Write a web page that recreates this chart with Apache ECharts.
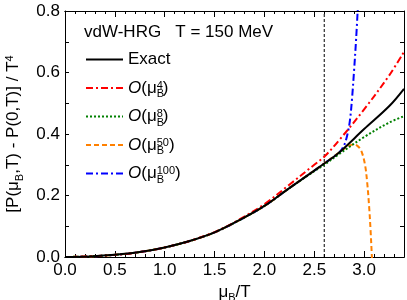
<!DOCTYPE html>
<html><head><meta charset="utf-8">
<script src="https://cdn.jsdelivr.net/npm/echarts@6/dist/echarts.min.js"></script>
<style>html,body{margin:0;padding:0;background:#fff}#c{width:407px;height:300px}</style>
</head><body><div id="c"></div>
<script>
// ---- data ----
const xExact = [0, 0.25, 0.5, 0.75, 1.0, 1.25, 1.5, 1.75, 2.0, 2.25, 2.5, 2.6, 2.75, 3.0, 3.25, 3.4];
const yExact = [0, 0.002, 0.007, 0.016, 0.031, 0.052, 0.080, 0.120, 0.166, 0.224, 0.281, 0.304, 0.340, 0.416, 0.490, 0.547];

const xO4 = [0, 0.25, 0.5, 0.75, 1.0, 1.25, 1.5, 1.75, 2.0, 2.25, 2.5, 2.6, 2.75, 3.0, 3.25, 3.4];
const yO4 = [0, 0.002, 0.007, 0.016, 0.031, 0.052, 0.081, 0.122, 0.172, 0.235, 0.300, 0.326, 0.380, 0.480, 0.590, 0.667];

const xO8 = [0, 0.25, 0.5, 0.75, 1.0, 1.25, 1.5, 1.75, 2.0, 2.25, 2.5, 2.6, 2.75, 3.0, 3.25, 3.4];
const yO8 = [0, 0.002, 0.007, 0.016, 0.031, 0.052, 0.080, 0.120, 0.166, 0.224, 0.279, 0.300, 0.335, 0.390, 0.437, 0.458];

const xO50 = [0, 0.25, 0.5, 0.75, 1.0, 1.25, 1.5, 1.75, 2.0, 2.25, 2.5, 2.6, 2.75, 2.8, 2.85, 2.9, 2.95, 2.98, 3.01, 3.03, 3.05, 3.065, 3.078, 3.09];
const yO50 = [0, 0.002, 0.007, 0.016, 0.031, 0.052, 0.080, 0.120, 0.166, 0.224, 0.281, 0.304, 0.340, 0.352, 0.362, 0.366, 0.356, 0.338, 0.298, 0.245, 0.165, 0.085, 0.0, -0.08];

const xO100 = [0, 0.25, 0.5, 0.75, 1.0, 1.25, 1.5, 1.75, 2.0, 2.25, 2.5, 2.6, 2.75, 2.78, 2.81, 2.84, 2.86, 2.88, 2.90, 2.92, 2.94];
const yO100 = [0, 0.002, 0.007, 0.016, 0.031, 0.052, 0.080, 0.120, 0.166, 0.224, 0.281, 0.304, 0.340, 0.352, 0.372, 0.410, 0.450, 0.520, 0.610, 0.710, 0.830];

const xCrit = [2.6, 2.6];
const yCrit = [0, 0.8];

const seriesNames = ['Exact', 'O(μB^4)', 'O(μB^8)', 'O(μB^50)', 'O(μB^100)'];
const orders = ['', '4', '8', '50', '100'];

// ---- chart ----
const FONT = '"Liberation Sans", Arial, Helvetica, sans-serif';
const pairs = (xs, ys) => xs.map((x, i) => [x, ys[i]]);
const chart = echarts.init(document.getElementById('c'), null, {renderer: 'canvas'});

const richLegend = {
  i: {fontFamily: FONT, fontSize: 17, fontStyle: 'italic', color: '#000'},
  n: {fontFamily: FONT, fontSize: 17, color: '#000'},
  sub: {fontFamily: FONT, fontSize: 11, color: '#000', width: 0.01, padding: [12, 0, 0, 0]},
  sup: {fontFamily: FONT, fontSize: 11, color: '#000', padding: [0, 0, 5, 0]}
};

function mkX(pos, interval, len, labels) {
  return {
    type: 'value', min: 0, max: 3.4, interval: interval, position: pos,
    axisLine: {show: true, onZero: false, lineStyle: {color: '#000', width: 1}},
    axisTick: {show: true, inside: true, length: len, lineStyle: {color: '#000', width: 1}},
    axisLabel: labels ? {
      show: true, color: '#000', fontFamily: FONT, fontSize: 17, margin: 5,
      formatter: v => { const k = Math.round(v * 10); return (Math.abs(v * 10 - k) < 1e-6 && k % 5 === 0) ? (k / 10).toFixed(1) : ''; }
    } : {show: false},
    splitLine: {show: false}
  };
}
function mkY(pos, labels) {
  return {
    type: 'value', min: 0, max: 0.8, interval: 0.1, position: pos,
    axisLine: {show: true, onZero: false, lineStyle: {color: '#000', width: 1}},
    axisTick: {show: true, inside: true, length: 4, lineStyle: {color: '#000', width: 1}},
    axisLabel: labels ? {
      show: true, color: '#000', fontFamily: FONT, fontSize: 17, margin: 5,
      formatter: v => { const k = Math.round(v * 10); return k % 2 === 0 ? (k / 10).toFixed(1) : ''; }
    } : {show: false},
    splitLine: {show: false}
  };
}

const xa0 = mkX('bottom', 0.1, 3, true);
xa0.name = '{n|μ}{sub|B}{n|/T}';
xa0.nameLocation = 'middle';
xa0.nameGap = 22;
xa0.nameTextStyle = {color: '#000', fontFamily: FONT, fontSize: 17, rich: {
  n: {fontFamily: FONT, fontSize: 17, color: '#000'},
  sub: {fontFamily: FONT, fontSize: 11, color: '#000', padding: [12, 0, 0, 0]}
}};
const xa1 = mkX('bottom', 0.5, 6, false);
const xa2 = mkX('top', 0.1, 3, false);
const xa3 = mkX('top', 0.5, 6, false);

const ya0 = mkY('left', true);
ya0.name = '{n|[P(μ}{sub|B}{n|,T) - P(0,T)] / T}{sup|4}';
ya0.nameLocation = 'middle';
ya0.nameGap = 40;
ya0.nameTextStyle = {color: '#000', fontFamily: FONT, fontSize: 17, rich: {
  n: {fontFamily: FONT, fontSize: 17, color: '#000'},
  sub: {fontFamily: FONT, fontSize: 11, color: '#000', padding: [12, 0, 0, 0]},
  sup: {fontFamily: FONT, fontSize: 11, color: '#000', padding: [0, 0, 8, 0]}
}};
const ya1 = mkY('right', false);

const styles = [
  {color: '#000000', width: 2, type: 'solid'},
  {color: '#ff0000', width: 2, type: [7, 3, 2, 3]},
  {color: '#008000', width: 2, type: [2, 2]},
  {color: '#ff8000', width: 2, type: [5, 3]},
  {color: '#0000ff', width: 2, type: [7, 3, 2, 3]}
];
const datas = [pairs(xExact, yExact), pairs(xO4, yO4), pairs(xO8, yO8), pairs(xO50, yO50), pairs(xO100, yO100)];

const series = [{
  name: 'crit', type: 'line', data: pairs(xCrit, yCrit), symbol: 'none', silent: true,
  lineStyle: {color: '#000', width: 1, type: [3, 2]}, z: 1
}];
// draw in reverse so that Exact is on top
for (let i = seriesNames.length - 1; i >= 0; i--) {
  series.push({
    name: seriesNames[i], type: 'line', data: datas[i], symbol: 'none', smooth: 0.35,
    clip: true, lineStyle: styles[i], itemStyle: {color: styles[i].color}, z: 2 + (seriesNames.length - i)
  });
}

chart.setOption({
  animation: false,
  backgroundColor: '#fff',
  grid: {left: 65, right: 3, top: 11, bottom: 43, outerBoundsMode: 'none', containLabel: false},
  title: {
    text: 'vdW-HRG   T = 150 MeV', left: 84, top: 24, padding: 0,
    textStyle: {fontFamily: FONT, fontSize: 17, fontWeight: 'normal', color: '#000'}
  },
  legend: {
    data: seriesNames, orient: 'vertical', left: 85, top: 51, padding: 0,
    itemWidth: 37, itemHeight: 14, itemGap: 8.5, itemStyle: {opacity: 0},
    textStyle: {fontFamily: FONT, fontSize: 17, color: '#000', rich: richLegend},
    formatter: name => {
      const i = seriesNames.indexOf(name);
      if (i === 0) return '{n|Exact}{sub| }{sup| }';
      return '{i|O}{n|(μ}{sub|B}{sup|' + orders[i] + '}{n|)}';
    }
  },
  xAxis: [xa0, xa1, xa2, xa3],
  yAxis: [ya0, ya1],
  series: series
});
</script></body></html>
